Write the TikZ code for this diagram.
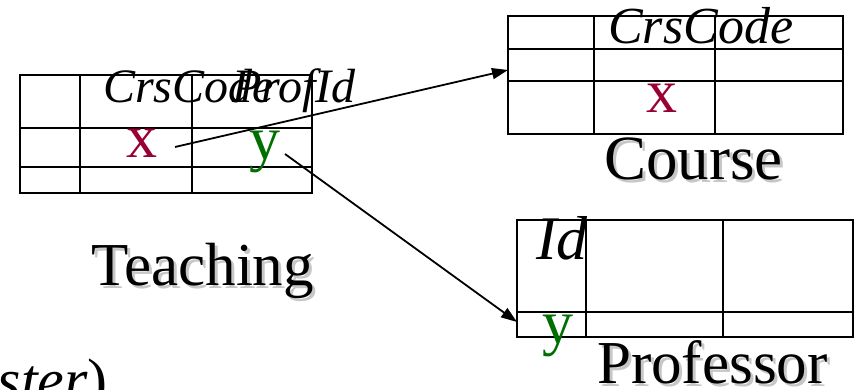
\documentclass[tikz,border=0pt]{standalone}
\usepackage{fontspec}
\setmainfont{Liberation Serif}
\usetikzlibrary{arrows.meta}
\definecolor{xred}{RGB}{153,0,51}
\definecolor{ygreen}{RGB}{0,110,0}
\tikzset{
  grid/.style={draw=black, line width=2pt},
  txt/.style={inner sep=0pt, anchor=base west},
  attr/.style={txt, font=\fontsize{#1}{#1}\selectfont\itshape},
  val/.style={txt, font=\fontsize{62}{62}\selectfont},
  lbl/.style={txt, font=\fontsize{#1}{#1}\selectfont},
  shadow/.style={txt, font=\fontsize{#1}{#1}\selectfont, text=black!22},
  link/.style={line width=1.8pt, -{Triangle[length=16pt,width=11pt]}}
}
\begin{document}
\begin{tikzpicture}[x=1pt,y=-1pt]
\useasboundingbox (0,0) rectangle (854,390);
% Teaching table
\draw[grid] (20,75) rectangle (312,193);
\draw[grid] (20,128) -- (312,128) (20,167) -- (312,167)
            (80,75) -- (80,193) (192,75) -- (192,193);
% Course table
\draw[grid] (508,16) rectangle (843,134);
\draw[grid] (508,49) -- (843,49) (508,81) -- (843,81)
            (594,16) -- (594,134) (715,16) -- (715,134);
% Professor table
\draw[grid] (517,220) rectangle (853,337);
\draw[grid] (517,312) -- (853,312)
            (586,220) -- (586,337) (723,220) -- (723,337);
% attribute names
\node[attr=48] (tcc) at (103,103) {CrsCode};
\node[attr=48] (tpi) at (232,103) {ProfId};
\node[attr=52] (ccc) at (608,44) {CrsCode};
\node[attr=62] (pid) at (536,259) {Id};
% values
\node[val, text=xred] (tx) at (126,158) {x};
\node[val, text=ygreen] (ty) at (249,160) {y};
\node[val, text=xred] (cx) at (646,113) {x};
\node[val, text=ygreen] (py) at (542,343) {y};
% labels with shadows
\node[shadow=63] at (607,183) {Course};
\node[lbl=63] (lcourse) at (604,180) {Course};
\node[shadow=61] at (94,288) {Teaching};
\node[lbl=61] (lteach) at (91,285) {Teaching};
\node[shadow=61] at (600,386) {Professor};
\node[lbl=61] (lprof) at (597,383) {Professor};
\node[inner sep=0pt, anchor=base east, font=\fontsize{60}{60}\selectfont] (ster) at (108,400) {{\itshape ster})};
% connectors
\coordinate (xs) at (175,147);
\coordinate (ce) at (508,70);
\coordinate (ys) at (285,154);
\coordinate (pe) at (517,322);
\draw[link] (xs) -- (ce);
\draw[link] (ys) -- (pe);
\end{tikzpicture}
\end{document}
